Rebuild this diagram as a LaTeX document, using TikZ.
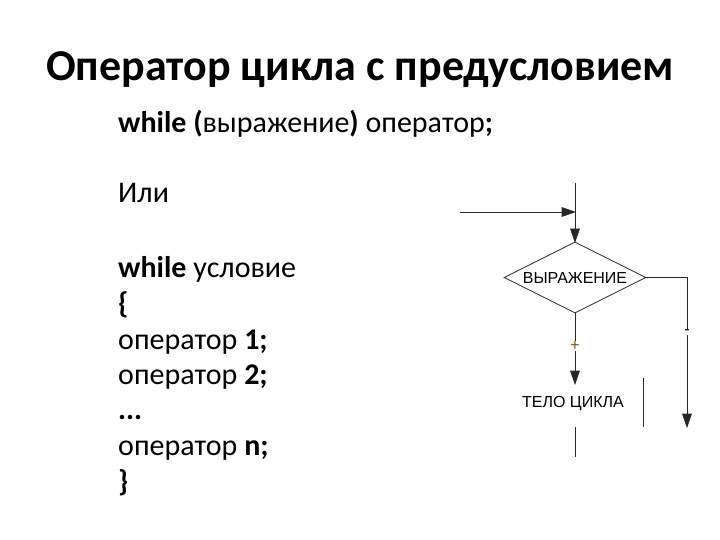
\documentclass[tikz,border=0pt]{standalone}
\usepackage{fontspec}
\setmainfont{Carlito}
\newfontfamily\arialf{Liberation Sans}
\usetikzlibrary{shapes.geometric}
\begin{document}
\begin{tikzpicture}[x=1pt,y=1pt,
  code/.style={anchor=base west,font=\fontsize{30}{32}\selectfont,inner sep=0pt},
  flow/.style={line width=0.8pt,black!85},
  tipfill/.style={fill=black!85,draw=black!85,line width=0.6pt,line join=miter},
  lbl/.style={font=\arialf\fontsize{16}{18}\selectfont,inner sep=1pt}]
\useasboundingbox (0,0) rectangle (720,-540);
\fill[white] (0,0) rectangle (720,-540);
\node[font=\bfseries\fontsize{44}{48}\selectfont] (title) at (360,-70) {Оператор цикла с предусловием};
\node[code] (l1) at (118,-133) {\textbf{while (}выражение\textbf{)} оператор\textbf{;}};
\node[code] (l2) at (118,-203) {Или};
\node[code] (l3) at (118,-277) {\textbf{while} условие};
\node[code] (l4) at (118,-313) {\textbf{\{}};
\node[code] (l5) at (118,-349) {оператор \textbf{1;}};
\node[code] (l6) at (118,-384) {оператор \textbf{2;}};
\node[code] (l7) at (118,-419) {\textbf{...}};
\node[code] (l8) at (118,-455) {оператор \textbf{n;}};
\node[code] (l9) at (118,-491) {\textbf{\}}};
% flowchart
\coordinate (top) at (575,-183);
\coordinate (inL) at (460,-212);
\coordinate (inJ) at (575,-212);
\node[diamond,draw,flow,minimum width=142pt,minimum height=71pt,inner sep=0pt] (cond) at (575,-277.5) {};
\node[lbl] (condtext) at (cond.center) {ВЫРАЖЕНИЕ};
\draw[flow] (top) -- (575,-230);
\draw[tipfill] (575,-242) -- (570.5,-229) -- (579.5,-229) -- cycle;
\draw[flow] (inL) -- (563,-212);
\draw[tipfill] (575,-212) -- (562,-207.5) -- (562,-216.5) -- cycle;
\coordinate (rc) at (687,-277.5);
\coordinate (rend) at (687,-427);
\draw[flow] (cond.east) -- (rc) -- (687,-415);
\draw[tipfill] (687,-427) -- (682.5,-414) -- (691.5,-414) -- cycle;
\node[lbl,fill=white,inner sep=0.5pt] (minus) at (687,-332) {-};
\coordinate (bodyin) at (575,-384);
\draw[flow] (cond.south) -- (575,-372);
\draw[tipfill] (575,-384) -- (570.5,-371) -- (579.5,-371) -- cycle;
\node[lbl,fill=white,text=orange!60!black,inner sep=0.5pt] (plus) at (575,-346) {+};
\node[lbl] (body) at (573,-404) {ТЕЛО ЦИКЛА};
\coordinate (vt) at (643,-378);
\coordinate (vb) at (643,-427);
\draw[flow] (vt) -- (vb);
\coordinate (bt) at (575,-427);
\coordinate (bb) at (575,-457);
\draw[flow] (bt) -- (bb);
\end{tikzpicture}
\end{document}
